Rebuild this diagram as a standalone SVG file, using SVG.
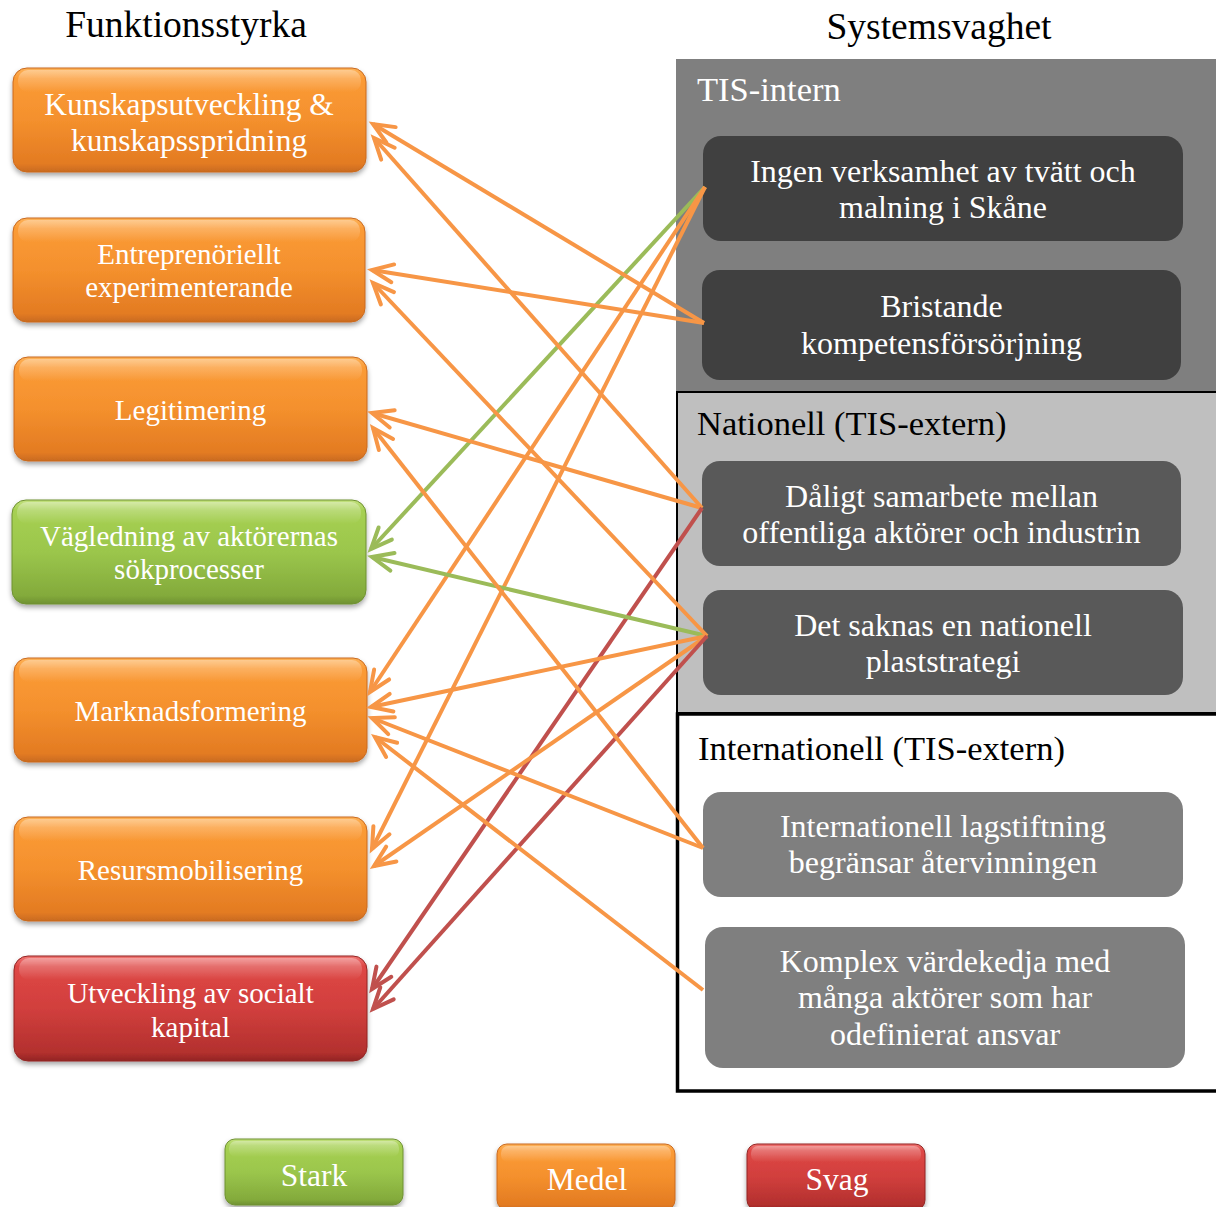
<svg xmlns="http://www.w3.org/2000/svg" width="1216" height="1207" viewBox="0 0 1216 1207">
<defs>
<style>
text{font-family:"Liberation Serif","Times New Roman",serif;}
.title{font-size:37.5px;fill:#000;text-anchor:middle;}
.lt{font-size:29px;fill:#fff;text-anchor:middle;}
.rt{font-size:32px;fill:#fff;text-anchor:middle;}
.ph{font-size:34.5px;}
.lg{font-size:31.5px;fill:#fff;text-anchor:middle;}
.conn{fill:none;stroke-width:4;}
.o{stroke:#f79646;marker-end:url(#ao);}
.g{stroke:#9bbb59;marker-end:url(#ag);}
.r{stroke:#c0504d;marker-end:url(#ar);}
.or{fill:url(#gOr);stroke:#c96a1f;stroke-width:1;filter:url(#sh);}
.gr{fill:url(#gGr);stroke:#6f9132;stroke-width:1;filter:url(#sh);}
.rd{fill:url(#gRd);stroke:#922523;stroke-width:1;filter:url(#sh);}
.hl{fill:url(#gHl);}
</style>
<linearGradient id="gOr" x1="0" y1="0" x2="0" y2="1">
<stop offset="0" stop-color="#fdb35a"/>
<stop offset="0.1" stop-color="#fb9b36"/>
<stop offset="0.5" stop-color="#f4902d"/>
<stop offset="0.92" stop-color="#e37b22"/>
<stop offset="1" stop-color="#c96a1f"/>
</linearGradient>
<linearGradient id="gGr" x1="0" y1="0" x2="0" y2="1">
<stop offset="0" stop-color="#c3e17f"/>
<stop offset="0.1" stop-color="#a6d052"/>
<stop offset="0.5" stop-color="#9bc64c"/>
<stop offset="0.92" stop-color="#83aa3b"/>
<stop offset="1" stop-color="#6f9132"/>
</linearGradient>
<linearGradient id="gRd" x1="0" y1="0" x2="0" y2="1">
<stop offset="0" stop-color="#f07572"/>
<stop offset="0.1" stop-color="#de4745"/>
<stop offset="0.5" stop-color="#d13f3d"/>
<stop offset="0.92" stop-color="#b3302e"/>
<stop offset="1" stop-color="#922523"/>
</linearGradient>
<linearGradient id="gHl" x1="0" y1="0" x2="0" y2="1">
<stop offset="0" stop-color="#fff" stop-opacity="0.35"/>
<stop offset="1" stop-color="#fff" stop-opacity="0"/>
</linearGradient>
<filter id="sh" x="-5%" y="-10%" width="110%" height="130%">
<feDropShadow dx="0" dy="3" stdDeviation="2.5" flood-color="#000" flood-opacity="0.35"/>
</filter>
<marker id="ao" markerUnits="userSpaceOnUse" viewBox="-26 -13 30 26" markerWidth="30" markerHeight="26" refX="0" refY="0" orient="auto" overflow="visible">
<path d="M-21,-9 L0,0 L-21,9" fill="none" stroke="#f79646" stroke-width="4" stroke-linecap="round" stroke-linejoin="miter"/>
</marker>
<marker id="ag" markerUnits="userSpaceOnUse" viewBox="-26 -13 30 26" markerWidth="30" markerHeight="26" refX="0" refY="0" orient="auto" overflow="visible">
<path d="M-21,-9 L0,0 L-21,9" fill="none" stroke="#9bbb59" stroke-width="4" stroke-linecap="round" stroke-linejoin="miter"/>
</marker>
<marker id="ar" markerUnits="userSpaceOnUse" viewBox="-26 -13 30 26" markerWidth="30" markerHeight="26" refX="0" refY="0" orient="auto" overflow="visible">
<path d="M-21,-9 L0,0 L-21,9" fill="none" stroke="#c0504d" stroke-width="4" stroke-linecap="round" stroke-linejoin="miter"/>
</marker>
</defs>
<rect x="0" y="0" width="1216" height="1207" fill="#fff"/>

<text class="title" x="186" y="37">Funktionsstyrka</text>
<text class="title" x="939" y="39">Systemsvaghet</text>

<g id="panel-tis-intern">
<rect x="676" y="59" width="545" height="333" fill="#7f7f7f"/>
<text class="ph" x="697" y="101" fill="#fff">TIS-intern</text>
</g>
<g id="panel-nationell">
<rect x="677" y="392" width="545" height="321" fill="#bfbfbf" stroke="#000" stroke-width="2"/>
<text class="ph" x="697" y="435" fill="#000">Nationell (TIS-extern)</text>
</g>
<g id="panel-internationell">
<rect x="677.5" y="714" width="545" height="377" fill="#fff" stroke="#000" stroke-width="3.5"/>
<text class="ph" x="698" y="760" fill="#000">Internationell (TIS-extern)</text>
</g>

<g id="w-ingen">
<rect x="703" y="136" width="480" height="105" rx="18" fill="#404040"/>
<text class="rt" x="943" y="182">Ingen verksamhet av tvätt och</text>
<text class="rt" x="943" y="218">malning i Skåne</text>
</g>
<g id="w-bristande">
<rect x="702" y="270" width="479" height="110" rx="18" fill="#404040"/>
<text class="rt" x="941.5" y="317">Bristande</text>
<text class="rt" x="941.5" y="354">kompetensförsörjning</text>
</g>
<g id="w-daligt">
<rect x="702" y="461" width="479" height="105" rx="18" fill="#595959"/>
<text class="rt" x="941.5" y="507">Dåligt samarbete mellan</text>
<text class="rt" x="941.5" y="543">offentliga aktörer och industrin</text>
</g>
<g id="w-strategi">
<rect x="703" y="590" width="480" height="105" rx="18" fill="#595959"/>
<text class="rt" x="943" y="636">Det saknas en nationell</text>
<text class="rt" x="943" y="672">plaststrategi</text>
</g>
<g id="w-lagstiftning">
<rect x="703" y="792" width="480" height="105" rx="18" fill="#7f7f7f"/>
<text class="rt" x="943" y="837">Internationell lagstiftning</text>
<text class="rt" x="943" y="873">begränsar återvinningen</text>
</g>
<g id="w-komplex">
<rect x="705" y="927" width="480" height="141" rx="18" fill="#7f7f7f"/>
<text class="rt" x="945" y="972">Komplex värdekedja med</text>
<text class="rt" x="945" y="1008">många aktörer som har</text>
<text class="rt" x="945" y="1045">odefinierat ansvar</text>
</g>

<g id="f-kunskap">
<rect class="or" x="13" y="68" width="353" height="104" rx="14"/>
<rect class="hl" x="18" y="70" width="343" height="22" rx="10"/>
<text class="lt" x="189" y="115" style="font-size:31.5px">Kunskapsutveckling &amp;</text>
<text class="lt" x="189" y="151" style="font-size:31.5px">kunskapsspridning</text>
</g>
<g id="f-entreprenoriellt">
<rect class="or" x="13" y="218" width="352" height="104" rx="14"/>
<rect class="hl" x="18" y="220" width="342" height="22" rx="10"/>
<text class="lt" x="189" y="264">Entreprenöriellt</text>
<text class="lt" x="189" y="297">experimenterande</text>
</g>
<g id="f-legitimering">
<rect class="or" x="14" y="357" width="353" height="104" rx="14"/>
<rect class="hl" x="19" y="359" width="343" height="22" rx="10"/>
<text class="lt" x="190.5" y="420">Legitimering</text>
</g>
<g id="f-vagledning">
<rect class="gr" x="12" y="500" width="354" height="104" rx="14"/>
<rect class="hl" x="17" y="502" width="344" height="22" rx="10"/>
<text class="lt" x="189" y="546">Vägledning av aktörernas</text>
<text class="lt" x="189" y="579">sökprocesser</text>
</g>
<g id="f-marknad">
<rect class="or" x="14" y="658" width="353" height="104" rx="14"/>
<rect class="hl" x="19" y="660" width="343" height="22" rx="10"/>
<text class="lt" x="190.5" y="721">Marknadsformering</text>
</g>
<g id="f-resurs">
<rect class="or" x="14" y="817" width="353" height="104" rx="14"/>
<rect class="hl" x="19" y="819" width="343" height="22" rx="10"/>
<text class="lt" x="190.5" y="880">Resursmobilisering</text>
</g>
<g id="f-socialt">
<rect class="rd" x="14" y="956" width="353" height="105" rx="14"/>
<rect class="hl" x="19" y="958" width="343" height="22" rx="10"/>
<text class="lt" x="190.5" y="1003">Utveckling av socialt</text>
<text class="lt" x="190.5" y="1037">kapital</text>
</g>

<g id="legend-stark">
<rect class="gr" x="225" y="1139" width="178" height="66" rx="10"/>
<rect class="hl" x="229" y="1141" width="170" height="16" rx="7"/>
<text class="lg" x="314" y="1186">Stark</text>
</g>
<g id="legend-medel">
<rect class="or" x="497" y="1144" width="178" height="66" rx="10"/>
<rect class="hl" x="501" y="1146" width="170" height="16" rx="7"/>
<text class="lg" x="587" y="1190">Medel</text>
</g>
<g id="legend-svag">
<rect class="rd" x="747" y="1144" width="178" height="66" rx="10"/>
<rect class="hl" x="751" y="1146" width="170" height="16" rx="7"/>
<text class="lg" x="837" y="1190">Svag</text>
</g>

<g id="connectors">
<line class="conn g" x1="705" y1="187" x2="371" y2="549"/>
<line class="conn o" x1="705" y1="187" x2="370" y2="692"/>
<line class="conn o" x1="705" y1="187" x2="372" y2="849"/>
<line class="conn o" x1="704" y1="323" x2="373" y2="124"/>
<line class="conn o" x1="704" y1="323" x2="372" y2="270"/>
<line class="conn o" x1="702" y1="508" x2="374" y2="138"/>
<line class="conn o" x1="702" y1="508" x2="372" y2="413"/>
<line class="conn r" x1="702" y1="508" x2="372" y2="989"/>
<line class="conn g" x1="707" y1="636" x2="372" y2="557"/>
<line class="conn o" x1="707" y1="636" x2="373" y2="283"/>
<line class="conn o" x1="707" y1="636" x2="371" y2="707"/>
<line class="conn o" x1="707" y1="636" x2="374" y2="866"/>
<line class="conn r" x1="707" y1="636" x2="373" y2="1009"/>
<line class="conn o" x1="703" y1="848" x2="373" y2="428"/>
<line class="conn o" x1="703" y1="848" x2="372" y2="718"/>
<line class="conn o" x1="703" y1="990" x2="375" y2="737"/>
</g>
</svg>
